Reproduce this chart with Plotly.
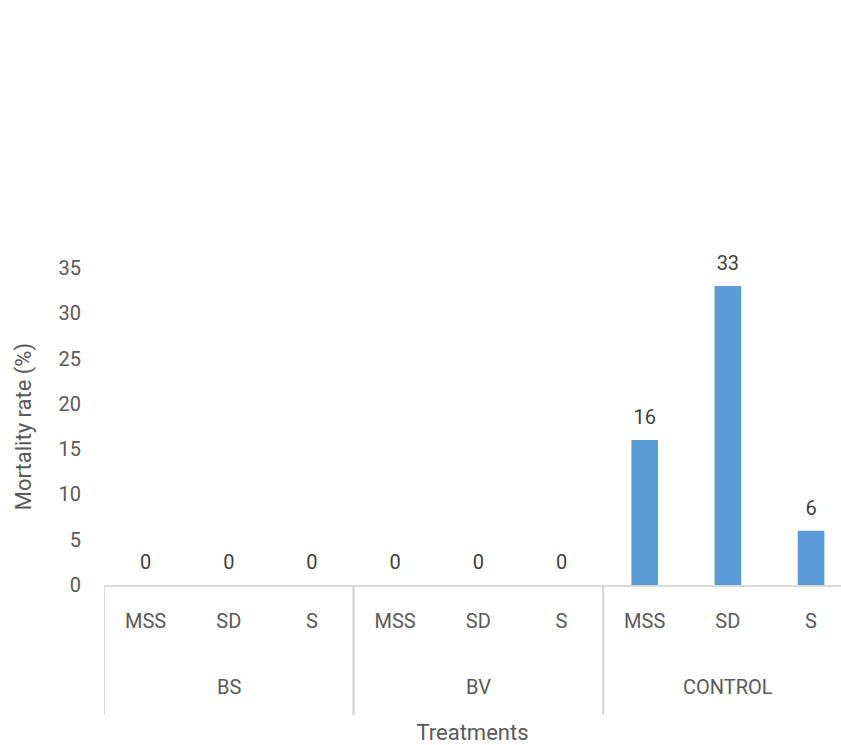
import plotly.graph_objects as go

# Treatment groups, sub-treatments and mortality (%)
groups = ["BS", "BS", "BS", "BV", "BV", "BV", "CONTROL", "CONTROL", "CONTROL"]
subs = ["MSS", "SD", "S", "MSS", "SD", "S", "MSS", "SD", "S"]
mortality = [0, 0, 0, 0, 0, 0, 16, 33, 6]
y_ticks = [0, 5, 10, 15, 20, 25, 30, 35]

BAR = "#5B9BD5"
TXT = "#595959"
LINE = "#D9D9D9"
FONT = "Roboto"

pos = list(range(len(subs)))

fig = go.Figure()
fig.add_trace(go.Bar(
    x=pos,
    y=mortality,
    marker=dict(color=BAR, line=dict(width=0)),
    hoverinfo="skip",
))
# value labels sitting above each bar
fig.add_trace(go.Scatter(
    x=pos,
    y=mortality,
    mode="markers+text",
    text=[str(v) for v in mortality],
    textposition="top center",
    textfont=dict(family=FONT, size=20, color="#404040"),
    marker=dict(size=16, opacity=0),
    cliponaxis=False,
    hoverinfo="skip",
))

# group labels and the vertical separators between groups
group_names = list(dict.fromkeys(groups))
for g in group_names:
    idx = [i for i, name in enumerate(groups) if name == g]
    centre = (idx[0] + idx[-1]) / 2
    fig.add_annotation(
        x=centre, xref="x", y=0, yref="paper", yshift=-102,
        text=g, showarrow=False, yanchor="middle",
        font=dict(family=FONT, size=20, color=TXT),
    )
    for edge in (idx[0] - 0.5, idx[-1] + 0.5):
        fig.add_shape(
            type="line", xref="x", yref="paper",
            x0=edge, x1=edge, y0=0, y1=-130 / 317,
            line=dict(color=LINE, width=2),
        )

fig.update_layout(
    width=841,
    height=745,
    margin=dict(l=104, r=0, t=268, b=160),
    paper_bgcolor="white",
    plot_bgcolor="white",
    showlegend=False,
    bargap=0.68,
    font=dict(family=FONT, color=TXT, size=20),
)
fig.update_xaxes(
    range=[-0.5, 8.36],
    tickvals=pos,
    ticktext=subs,
    showline=True,
    linecolor=LINE,
    linewidth=2,
    showgrid=False,
    zeroline=False,
    ticks="",
    ticklabelstandoff=17,
    automargin=False,
    tickfont=dict(family=FONT, size=20, color=TXT),
    title=dict(text="Treatments", font=dict(family=FONT, size=22, color=TXT), standoff=101),
)
fig.update_yaxes(
    range=[0, 35],
    tickvals=y_ticks,
    showline=False,
    showgrid=False,
    zeroline=False,
    ticks="",
    ticklabelstandoff=22,
    automargin=False,
    tickfont=dict(family=FONT, size=20, color=TXT),
    title=dict(text="Mortality rate (%)", font=dict(family=FONT, size=22, color=TXT), standoff=20),
)

fig.write_html("out.html")
